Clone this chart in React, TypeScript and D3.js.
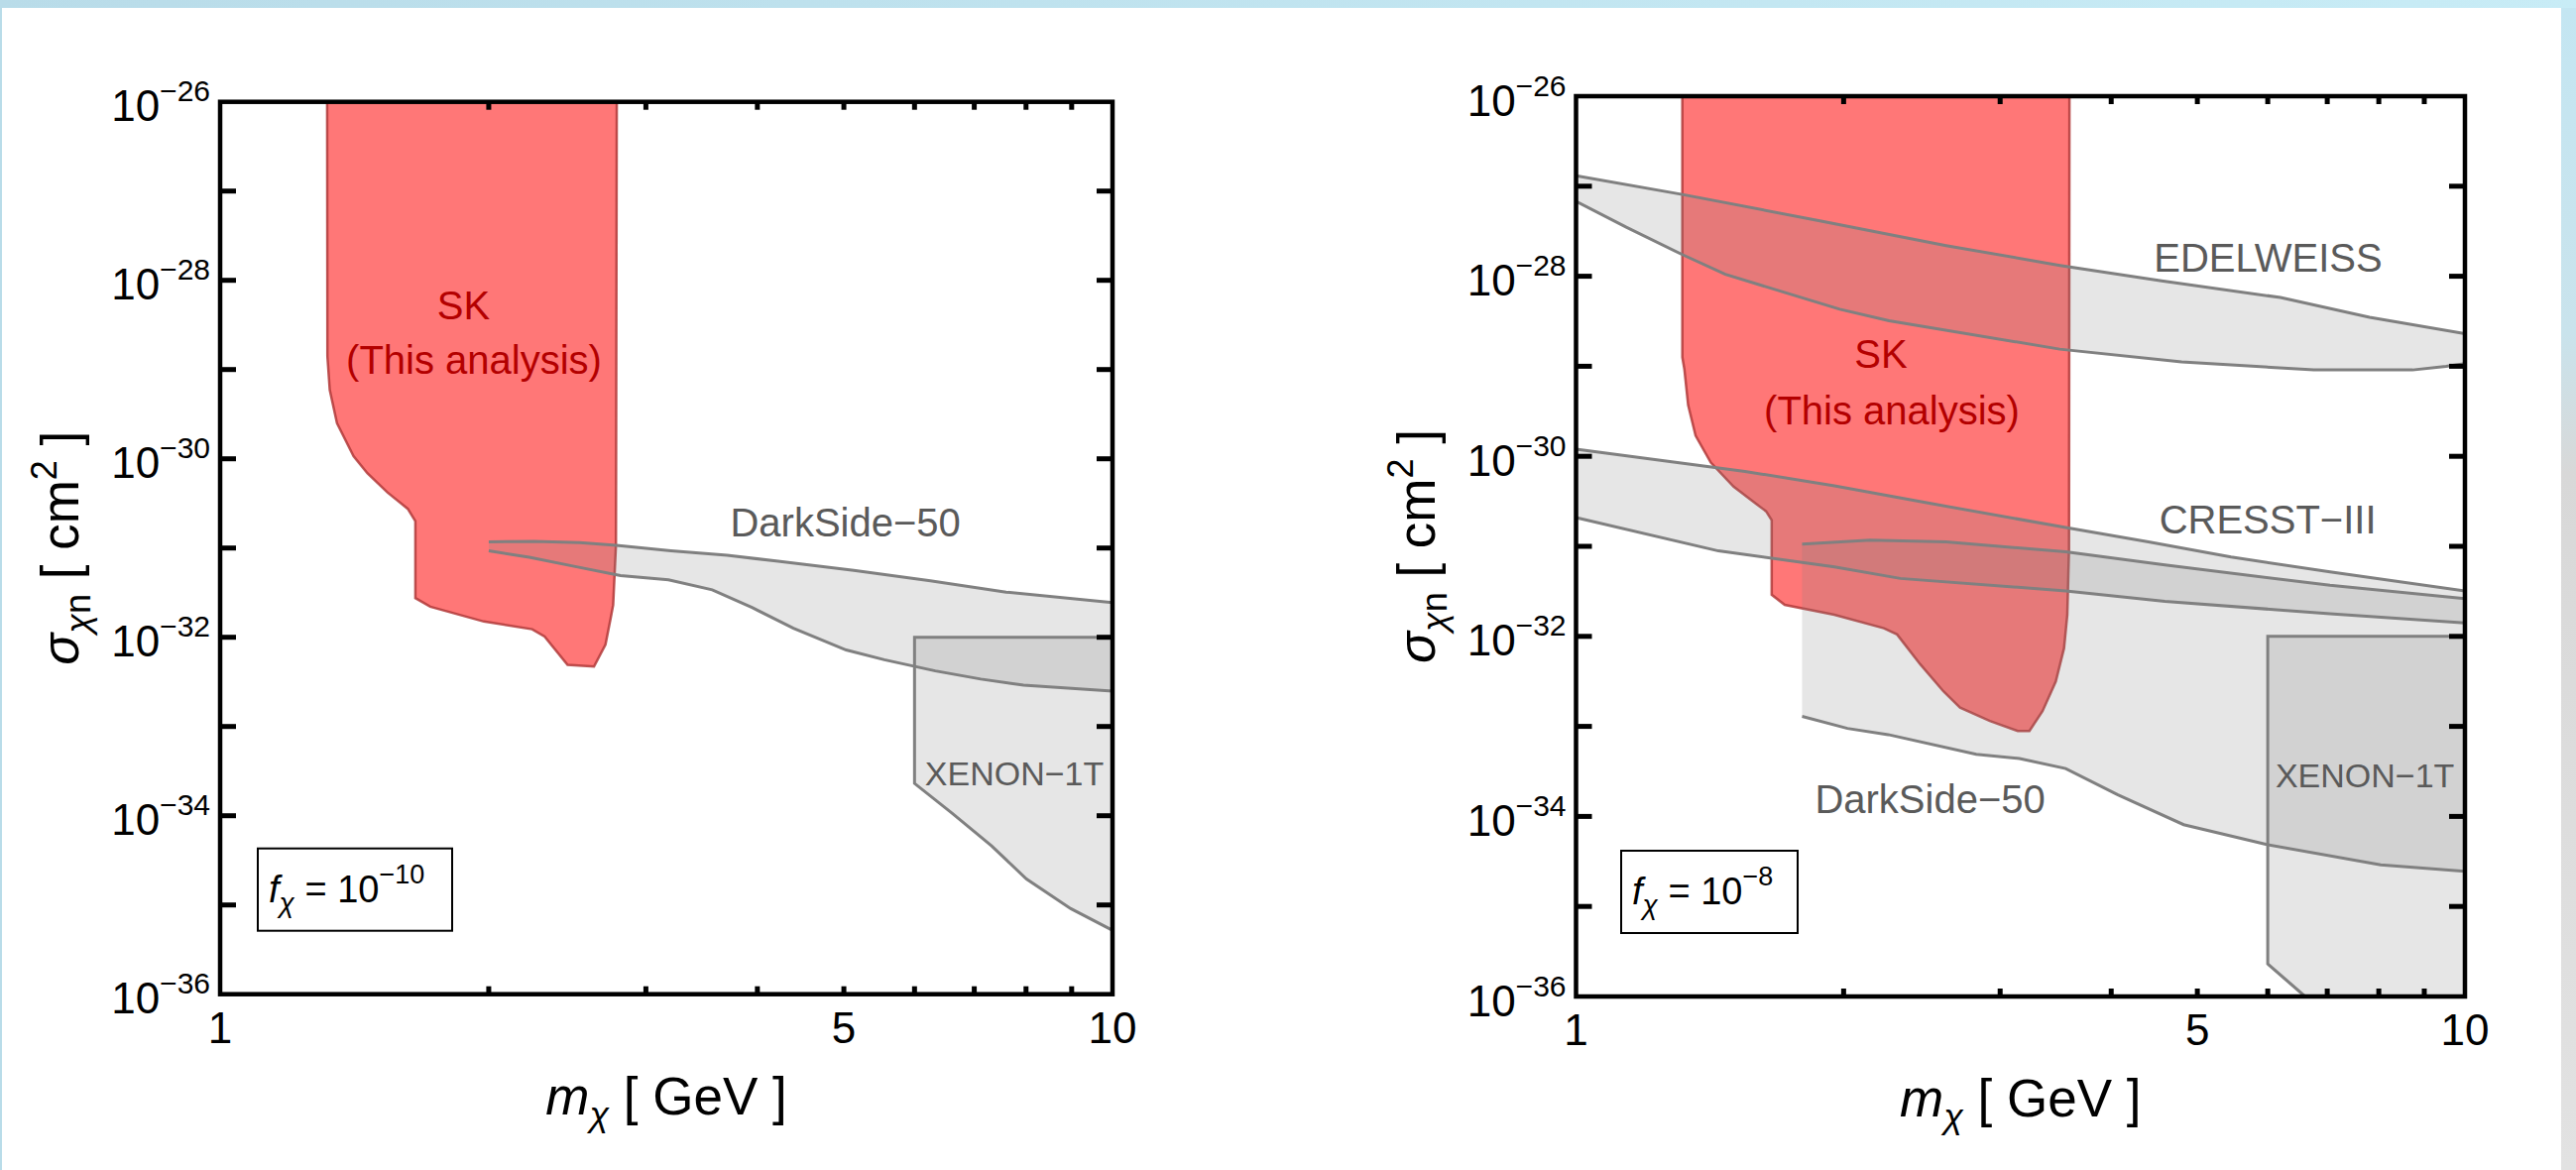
import React from 'react';
import * as d3 from 'd3';

type Pt = [number, number]; // [m_chi (GeV), sigma_chi_n (cm^2)]

// axis ticks
const massTicks = [1, 2, 3, 4, 5, 6, 7, 8, 9, 10];
const massLabels = [1, 5, 10];
const sigmaExps = [-26, -27, -28, -29, -30, -31, -32, -33, -34, -35, -36];
const sigmaLabelExps = [-26, -28, -30, -32, -34, -36];

// ---- left panel, f_chi = 1e-10 ----
const skLeft: Pt[] = [
  [1.318, 1e-26], [1.319, 1.4e-29], [1.327, 5.9e-30], [1.352, 2.5e-30], [1.411, 1.07e-30],
  [1.462, 6.9e-31], [1.54, 4.2e-31], [1.623, 2.75e-31], [1.655, 2.0e-31], [1.655, 2.75e-32],
  [1.72, 2.2e-32], [1.975, 1.5e-32], [2.237, 1.23e-32], [2.31, 1.02e-32], [2.451, 4.9e-33],
  [2.624, 4.7e-33], [2.703, 8.3e-33], [2.74, 1.66e-32], [2.757, 2.3e-32], [2.777, 1.07e-31],
  [2.783, 1e-26],
];
const darkSideLeftUpper: Pt[] = [
  [2.0, 1.17e-31], [2.25, 1.19e-31], [2.53, 1.15e-31], [2.78, 1.07e-31], [3.2, 9.3e-32],
  [3.7, 8.3e-32], [4.22, 7.1e-32], [5.13, 5.6e-32], [6.25, 4.3e-32], [7.6, 3.2e-32], [10, 2.45e-32],
];
const darkSideLeftLower: Pt[] = [
  [2.0, 9.3e-32], [2.22, 7.9e-32], [2.5, 6.2e-32], [2.81, 4.9e-32], [3.18, 4.4e-32],
  [3.56, 3.4e-32], [3.95, 2.14e-32], [4.39, 1.26e-32], [5.03, 7.2e-33], [5.55, 5.6e-33],
  [6.33, 4.2e-33], [7.12, 3.4e-33], [7.95, 2.9e-33], [10, 2.5e-33],
];
const xenonLeft: Pt[] = [
  [6.0, 1e-32], [6.0, 2.3e-34], [6.61, 1.07e-34], [7.32, 4.6e-35], [8.01, 1.95e-35],
  [8.98, 9.1e-36], [10, 5.2e-36], [10, 1e-32],
];

// ---- right panel, f_chi = 1e-8 ----
const skRight: Pt[] = [
  [1.317, 1e-26], [1.317, 1.26e-29], [1.324, 9.3e-30], [1.337, 3.7e-30], [1.363, 1.7e-30],
  [1.418, 8.5e-31], [1.504, 4.6e-31], [1.595, 2.95e-31], [1.636, 2.45e-31], [1.66, 1.95e-31],
  [1.66, 2.9e-32], [1.717, 2.24e-32], [1.952, 1.74e-32], [2.22, 1.23e-32], [2.297, 1.05e-32],
  [2.439, 4.9e-33], [2.59, 2.45e-33], [2.704, 1.62e-33], [2.921, 1.15e-33], [3.14, 8.9e-34],
  [3.236, 8.9e-34], [3.348, 1.48e-33], [3.465, 3.16e-33], [3.54, 7.4e-33], [3.57, 1.74e-32],
  [3.586, 9.3e-32], [3.59, 1e-26],
];
const edelweissUpper: Pt[] = [
  [1, 1.31e-27], [1.317, 8.1e-28], [1.887, 4.1e-28], [2.608, 2.19e-28], [3.503, 1.32e-28],
  [4.557, 8.9e-29], [6.2, 5.8e-29], [7.81, 3.5e-29], [10, 2.3e-29],
];
const edelweissLower: Pt[] = [
  [1, 6.8e-28], [1.139, 3.5e-28], [1.317, 1.74e-28], [1.472, 1.05e-28], [1.98, 4.3e-29],
  [2.25, 3.2e-29], [3.5, 1.55e-29], [4.8, 1.12e-29], [6.76, 9.1e-30], [8.73, 9.1e-30],
  [9.52, 1.0e-29], [10, 1.07e-29],
];
const cresstUpper: Pt[] = [
  [1, 1.2e-30], [1.549, 6.8e-31], [1.953, 4.7e-31], [2.524, 2.95e-31], [3.555, 1.62e-31],
  [4.405, 1.12e-31], [5.456, 7.6e-32], [7.05, 5.2e-32], [10, 3.2e-32],
];
const cresstLower: Pt[] = [
  [1, 2.09e-31], [1.446, 8.9e-32], [1.953, 5.9e-32], [2.317, 4.4e-32], [3.555, 3.2e-32],
  [4.597, 2.45e-32], [7.05, 1.78e-32], [10, 1.41e-32],
];
const darkSideRightUpper: Pt[] = [
  [1.796, 1.06e-31], [2.143, 1.17e-31], [2.608, 1.12e-31], [2.75, 1.07e-31], [3.555, 8.7e-32],
  [4.597, 6.2e-32], [7.05, 3.7e-32], [10, 2.63e-32],
];
const darkSideRightLower: Pt[] = [
  [1.796, 1.29e-33], [2.02, 9.5e-34], [2.245, 8.1e-34], [2.82, 4.9e-34], [3.154, 4.4e-34],
  [3.555, 3.4e-34], [4.07, 1.74e-34], [4.826, 8.1e-35], [5.97, 4.9e-35], [8.04, 2.9e-35],
  [10, 2.45e-35],
];
const xenonRight: Pt[] = [
  [6.0, 1e-32], [6.0, 2.3e-36], [6.61, 1e-36], [10, 1e-36], [10, 1e-32],
];

const FONT = '"Liberation Sans", Arial, Helvetica, sans-serif';
const RED_FILL = '#ff7777';
const RED_EDGE = '#b23a3a';
const RED_TEXT = '#b30000';
const GREY_FILL = 'rgba(128,128,128,0.2)';
const GREY_LINE = '#808080';
const GREY_TEXT = '#5a5a5a';

interface Band { upper: Pt[]; lower: Pt[] }
interface Label { text: string; at: Pt; anchor: 'middle' | 'end'; size: number; color: string }
interface PanelProps {
  id: string;
  left: number; top: number; width: number; height: number;
  fExp: string; boxDx: number; boxW: number;
  sk: Pt[]; bands: Band[]; xenon: Pt[]; labels: Label[];
}

function Panel(p: PanelProps) {
  const x = d3.scaleLog().domain([1, 10]).range([p.left, p.left + p.width]);
  const y = d3.scaleLog().domain([1e-36, 1e-26]).range([p.top + p.height, p.top]);
  const line = d3.line<Pt>().x(d => x(d[0])).y(d => y(d[1]));
  const right = p.left + p.width;
  const bottom = p.top + p.height;
  const boxTop = bottom - 147;

  return (
    <g fontFamily={FONT}>
      <defs>
        <clipPath id={p.id}>
          <rect x={p.left} y={p.top} width={p.width} height={p.height} />
        </clipPath>
      </defs>
      <g clipPath={`url(#${p.id})`}>
        <path d={line(p.sk)! + 'Z'} fill={RED_FILL} stroke={RED_EDGE} strokeWidth={2.5} strokeOpacity={0.85} />
        {p.bands.map((b, i) => (
          <g key={i}>
            <path d={line(b.upper.concat(b.lower.slice().reverse()))! + 'Z'} fill={GREY_FILL} stroke="none" />
            <path d={line(b.upper)!} fill="none" stroke={GREY_LINE} strokeWidth={3} />
            <path d={line(b.lower)!} fill="none" stroke={GREY_LINE} strokeWidth={3} />
          </g>
        ))}
        <path d={line(p.xenon)! + 'Z'} fill={GREY_FILL} stroke={GREY_LINE} strokeWidth={3} />
      </g>

      {p.labels.map((l, i) => (
        <text key={i} x={x(l.at[0])} y={y(l.at[1])} textAnchor={l.anchor} fontSize={l.size} fill={l.color}>
          {l.text}
        </text>
      ))}

      {/* ticks */}
      {sigmaExps.slice(1, -1).map(e => (
        <g key={e} stroke="#000" strokeWidth={5}>
          <line x1={p.left} x2={p.left + 16} y1={y(10 ** e)} y2={y(10 ** e)} />
          <line x1={right - 16} x2={right} y1={y(10 ** e)} y2={y(10 ** e)} />
        </g>
      ))}
      {massTicks.slice(1, -1).map(m => (
        <g key={m} stroke="#000" strokeWidth={5}>
          <line x1={x(m)} x2={x(m)} y1={p.top} y2={p.top + 8} />
          <line x1={x(m)} x2={x(m)} y1={bottom - 8} y2={bottom} />
        </g>
      ))}
      <rect x={p.left} y={p.top} width={p.width} height={p.height} fill="none" stroke="#000" strokeWidth={4.5} />

      {/* tick labels */}
      {sigmaLabelExps.map(e => (
        <text key={e} x={p.left - 10} y={y(10 ** e) + 19.5} textAnchor="end" fontSize={44} fill="#000">
          10<tspan fontSize={30} dy={-20}>{'\u2212' + String(-e)}</tspan>
        </text>
      ))}
      {massLabels.map(m => (
        <text key={m} x={x(m)} y={bottom + 49} textAnchor="middle" fontSize={44} fill="#000">{m}</text>
      ))}

      {/* axis titles */}
      <text x={(p.left + right) / 2} y={bottom + 121} textAnchor="middle" fontSize={53} fill="#000">
        <tspan fontStyle="italic">m</tspan>
        <tspan fontStyle="italic" fontSize={36} dy={12}>χ</tspan>
        <tspan dy={-12}>{'\u00A0[\u00A0GeV\u00A0]'}</tspan>
      </text>
      <text transform={`translate(${p.left - 143},${(p.top + bottom) / 2}) rotate(-90)`} textAnchor="middle" fontSize={53} fill="#000">
        <tspan fontStyle="italic">σ</tspan>
        <tspan fontStyle="italic" fontSize={36} dy={12}>χ</tspan>
        <tspan fontSize={36}>n</tspan>
        <tspan dy={-12}>{'\u00A0[\u00A0cm'}</tspan>
        <tspan fontSize={36} dy={-22}>2</tspan>
        <tspan dy={22}>{'\u00A0]'}</tspan>
      </text>

      {/* f_chi box */}
      <rect x={p.left + p.boxDx} y={boxTop} width={p.boxW} height={83} fill="#fff" stroke="#000" strokeWidth={2} />
      <text x={p.left + p.boxDx + 11} y={boxTop + 54} fontSize={38} fill="#000">
        <tspan fontStyle="italic">f</tspan>
        <tspan fontStyle="italic" fontSize={28} dy={10}>χ</tspan>
        <tspan dy={-10}>{'\u00A0=\u00A010'}</tspan>
        <tspan fontSize={27} dy={-19}>{'\u2212' + p.fExp}</tspan>
      </text>
    </g>
  );
}

export default function App() {
  const W = 2598;
  const H = 1180;
  return (
    <svg width={W} height={H} style={{ position: 'absolute', left: 0, top: 0 }}>
      <defs>
        <linearGradient id="topband" x1="0" x2="1" y1="0" y2="0">
          <stop offset="0" stopColor="#b9dce9" />
          <stop offset="1" stopColor="#c8ecf6" />
        </linearGradient>
        <linearGradient id="rightband" x1="0" x2="0" y1="0" y2="1">
          <stop offset="0" stopColor="#c4e6f2" />
          <stop offset="0.28" stopColor="#c9e3ec" />
          <stop offset="0.4" stopColor="#d8d8d8" />
          <stop offset="1" stopColor="#e2e2e2" />
        </linearGradient>
      </defs>
      <rect x={0} y={0} width={W} height={H} fill="url(#topband)" />
      <rect x={2583} y={8} width={15} height={H - 8} fill="url(#rightband)" />
      <rect x={2} y={8} width={2581} height={H - 8} fill="#fff" />

      <Panel
        id="clipL" left={222} top={102.7} width={900} height={900}
        fExp="10" boxDx={38} boxW={196}
        sk={skLeft}
        bands={[{ upper: darkSideLeftUpper, lower: darkSideLeftLower }]}
        xenon={xenonLeft}
        labels={[
          { text: 'SK', at: [1.874, 3.7e-29], anchor: 'middle', size: 40, color: RED_TEXT },
          { text: '(This analysis)', at: [1.925, 9.0e-30], anchor: 'middle', size: 40, color: RED_TEXT },
          { text: 'DarkSide\u221250', at: [5.02, 1.36e-31], anchor: 'middle', size: 40, color: GREY_TEXT },
          { text: 'XENON\u22121T', at: [9.78, 2.2e-34], anchor: 'end', size: 34, color: GREY_TEXT },
        ]}
      />
      <Panel
        id="clipR" left={1589.5} top={97} width={896.5} height={908}
        fExp="8" boxDx={45.5} boxW={178}
        sk={skRight}
        bands={[
          { upper: edelweissUpper, lower: edelweissLower },
          { upper: cresstUpper, lower: cresstLower },
          { upper: darkSideRightUpper, lower: darkSideRightLower },
        ]}
        xenon={xenonRight}
        labels={[
          { text: 'SK', at: [2.203, 9.5e-30], anchor: 'middle', size: 40, color: RED_TEXT },
          { text: '(This analysis)', at: [2.266, 2.24e-30], anchor: 'middle', size: 40, color: RED_TEXT },
          { text: 'EDELWEISS', at: [6.005, 1.12e-28], anchor: 'middle', size: 40, color: GREY_TEXT },
          { text: 'CRESST\u2212III', at: [6.0, 1.39e-31], anchor: 'middle', size: 40, color: GREY_TEXT },
          { text: 'DarkSide\u221250', at: [2.502, 1.09e-34], anchor: 'middle', size: 40, color: GREY_TEXT },
          { text: 'XENON\u22121T', at: [9.73, 2.12e-34], anchor: 'end', size: 34, color: GREY_TEXT },
        ]}
      />
    </svg>
  );
}
